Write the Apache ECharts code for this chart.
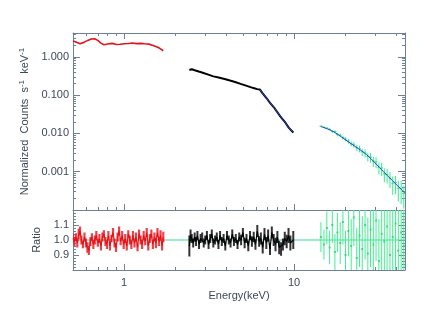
<!DOCTYPE html>
<html>
<head>
<meta charset="utf-8">
<script src="https://cdn.jsdelivr.net/npm/echarts@6/dist/echarts.min.js"></script>
</head>
<body style="margin:0;background:#fff">
<div id="chart" style="width:430px;height:332px"></div>
<script>
// soft band (red), keV / counts s-1 keV-1
var redE = [0.50,0.52,0.55,0.58,0.61,0.64,0.67,0.70,0.73,0.76,0.80,0.85,0.90,0.95,1.00,1.06,1.12,1.18,1.25,1.32,1.40,1.48,1.55,1.62,1.70];
var redV = [2.62,2.45,2.22,2.40,2.70,2.95,2.98,2.70,2.30,2.08,2.18,2.26,2.12,2.14,2.20,2.24,2.30,2.22,2.26,2.20,2.16,2.00,1.85,1.68,1.45];
// medium band (black)
var blackE = [2.42,2.50,2.60,2.75,2.90,3.10,3.35,3.60,3.90,4.20,4.50,4.85,5.27,5.60,5.90,6.08,6.20,6.30,6.40,6.50,6.60,6.90,7.20,7.70,8.30,8.80,9.30,9.90];
var blackV = [0.455,0.475,0.45,0.415,0.385,0.35,0.31,0.29,0.265,0.241,0.222,0.198,0.175,0.16,0.15,0.144,0.141,0.140,0.132,0.115,0.103,0.083,0.064,0.045,0.028,0.0205,0.0142,0.0106];
// model curve (blue)
var modelME = [6.30,6.40,6.50,6.60,6.90,7.20,7.70,8.30,8.80,9.30,9.90];
var modelMV = [0.140,0.132,0.115,0.103,0.083,0.064,0.045,0.028,0.0205,0.0142,0.0106];
var modelHE = [14.4,17.0,21.4,26.8,33.5,43.0,45.0];
var modelHV = [0.0152,0.01125,0.0056,0.00277,0.00102,0.000339,0.00028];
// hard band (green)
var greenE = [14.4,15.0,15.6,16.2,16.8,17.4,18.0,18.7,19.4,20.1,20.9,21.7,22.5,23.4,24.3,25.2,26.2,27.2,28.2,29.3,30.4,31.6,32.8,34.0,35.3,36.7,38.1,39.6,41.1,42.7,44.3];
var greenV = [0.0155,0.0145,0.0138,0.0128,0.0112,0.0112,0.0094,0.0090,0.0078,0.0071,0.0063,0.0054,0.0051,0.0042,0.0040,0.0033,0.0031,0.0025,0.0024,0.0019,0.0018,0.0013,0.00125,0.00088,0.00085,0.00068,0.00050,0.00052,0.00037,0.00036,0.00027];
var greenErr = [0.05,0.06,0.06,0.07,0.08,0.08,0.10,0.10,0.12,0.12,0.14,0.15,0.16,0.18,0.20,0.22,0.24,0.26,0.28,0.30,0.32,0.35,0.38,0.40,0.42,0.45,0.50,0.50,0.55,0.60,0.60];

// ratio panel
var redRE = [0.500,0.510,0.520,0.530,0.540,0.550,0.560,0.572,0.584,0.596,
  0.608,0.620,0.633,0.646,0.659,0.672,0.686,0.700,0.715,0.730,
  0.745,0.760,0.776,0.792,0.808,0.825,0.842,0.860,0.878,0.896,
  0.915,0.934,0.954,0.974,0.994,1.015,1.036,1.058,1.080,1.103,
  1.126,1.150,1.174,1.199,1.224,1.250,1.276,1.303,1.330,1.358,
  1.387,1.416,1.446,1.476,1.507,1.539,1.571,1.604,1.638,1.672,1.700];
var redR = [1.01,0.99,1.02,0.98,1.04,1.06,1.00,0.97,1.02,0.98,
  0.95,0.93,0.99,1.02,0.97,1.00,1.03,0.98,1.01,0.96,
  1.02,1.04,0.99,0.97,1.03,0.96,1.01,1.05,0.98,0.95,
  1.02,1.06,0.99,1.03,0.97,1.01,0.96,1.04,1.00,0.97,
  1.03,0.98,1.02,0.95,1.04,1.00,0.97,1.03,0.99,1.05,
  0.96,1.01,1.04,0.97,1.02,0.98,1.05,0.99,1.03,0.96,1.02];
var redRErr = [0.03,0.03,0.025,0.03,0.035,0.03,0.03,0.025,0.03,0.03,
  0.035,0.03,0.03,0.025,0.03,0.03,0.03,0.025,0.03,0.03,
  0.03,0.025,0.03,0.03,0.03,0.03,0.025,0.03,0.03,0.03,
  0.03,0.03,0.025,0.03,0.03,0.03,0.03,0.025,0.03,0.03,
  0.03,0.03,0.03,0.025,0.03,0.03,0.03,0.03,0.025,0.03,
  0.03,0.03,0.03,0.03,0.03,0.035,0.03,0.03,0.035,0.03,0.035];
var blackRE = [2.42,2.46,2.50,2.55,2.60,2.65,2.70,2.76,2.82,2.88,
  2.94,3.00,3.07,3.14,3.21,3.28,3.35,3.43,3.51,3.59,
  3.67,3.76,3.85,3.94,4.03,4.13,4.23,4.33,4.43,4.54,
  4.65,4.76,4.88,5.00,5.12,5.25,5.38,5.51,5.65,5.79,
  5.93,6.08,6.23,6.38,6.54,6.70,6.87,7.04,7.22,7.40,
  7.59,7.78,7.98,8.18,8.39,8.60,8.82,9.05,9.28,9.52,9.90];
var blackR = [0.96,1.03,1.01,0.98,1.02,0.99,1.03,0.97,1.01,1.02,
  0.98,1.00,1.03,0.97,1.01,1.04,0.98,1.00,1.02,0.97,
  1.03,0.99,1.01,0.96,1.03,1.00,0.98,1.04,0.99,1.01,
  0.97,1.02,1.00,1.05,0.98,1.01,0.96,1.03,0.99,1.02,
  0.97,1.06,0.99,1.01,0.95,1.04,0.98,1.03,0.94,1.05,
  1.00,0.97,1.02,0.95,0.94,0.97,1.01,0.99,1.03,0.98,1.00];
var blackRErr = [0.07,0.04,0.03,0.03,0.03,0.03,0.03,0.03,0.03,0.03,
  0.03,0.03,0.03,0.03,0.03,0.03,0.03,0.03,0.03,0.03,
  0.03,0.03,0.03,0.03,0.03,0.03,0.03,0.03,0.03,0.03,
  0.03,0.03,0.035,0.03,0.035,0.03,0.035,0.03,0.035,0.035,
  0.035,0.04,0.035,0.04,0.04,0.04,0.04,0.04,0.04,0.04,
  0.04,0.045,0.04,0.045,0.045,0.04,0.045,0.045,0.05,0.05,0.06];
var greenR = [1.02,0.97,1.08,0.95,1.10,0.92,1.05,0.98,1.12,0.90,1.06,0.96,1.15,0.88,1.03,0.94,1.10,0.91,1.07,0.97,1.13,0.86,1.04,0.99,1.09,0.90,1.02,1.11,0.93,1.05,0.96];
var greenRErr = [0.10,0.10,0.11,0.11,0.12,0.12,0.13,0.14,0.15,0.16,0.17,0.18,0.19,0.20,0.21,0.22,0.23,0.24,0.25,0.26,0.27,0.28,0.30,0.31,0.32,0.34,0.36,0.38,0.40,0.42,0.45];

var xTickMinor = [0.6,0.7,0.8,0.9,2,3,4,5,6,7,8,9,20,30,40];
var xTickMajor = [1,10];
var yTickMajor = [0.0001,0.001,0.01,0.1,1];
var rTickMajor = [0.9,1.0,1.1];

var L = Math.log10;
var frame = '#6f7f98', ink = '#3c4859', font = 'Liberation Sans';
var X0 = L(0.5), X1 = L(45), Y0 = -4, Y1 = 0.625;

var yTickMinor = [];
for (var d = -4; d <= 0; d++) for (var k = 2; k <= 9; k++) { var t = d + L(k); if (t < Y1) yTickMinor.push(t); }
var rTickMinor = [];
for (var i = 1; i < 20; i++) { var r = +(0.8 + i * 0.02).toFixed(2); if (rTickMajor.indexOf(r) < 0) rTickMinor.push(r); }

function ax(grid, pos, min, max, ticks, len, line, extra) {
  return Object.assign({
    type: 'value', gridIndex: grid, position: pos, min: min, max: max,
    axisLine: {show: line, onZero: false, lineStyle: {color: frame, width: 1}},
    axisTick: {show: true, inside: true, length: len, customValues: ticks, lineStyle: {color: frame, width: 1}},
    axisLabel: {show: false}, splitLine: {show: false}
  }, extra || {});
}

function errBars(xi, yi, data, color, w) {
  return {
    type: 'custom', xAxisIndex: xi, yAxisIndex: yi, clip: true, silent: true, data: data,
    renderItem: function (p, api) {
      var a = api.coord([api.value(0), api.value(1)]);
      var b = api.coord([api.value(0), api.value(2)]);
      return {type: 'line', shape: {x1: a[0], y1: a[1], x2: b[0], y2: b[1]}, style: {stroke: color, lineWidth: w}};
    }
  };
}

function pairs(es, vs, logy) {
  return es.map(function (e, i) { return [L(e), logy ? L(vs[i]) : vs[i]]; });
}

var labelX = {show: true, customValues: xTickMajor.map(L), fontSize: 11, color: ink, fontFamily: font, margin: 7,
  formatter: function (v) { return String(Math.round(Math.pow(10, v))); }};
var labelY = {show: true, customValues: [0.001, 0.01, 0.1, 1].map(L), fontSize: 11, color: ink, fontFamily: font, margin: 4,
  formatter: function (v) { return Math.pow(10, v).toFixed(3); }};
var labelR = {show: true, customValues: rTickMajor, fontSize: 11, color: ink, fontFamily: font, margin: 4,
  formatter: function (v) { return v.toFixed(1); }};

var chart = echarts.init(document.getElementById('chart'));
chart.setOption({
  animation: false,
  backgroundColor: '#fff',
  grid: [
    {left: 73, top: 33, width: 332, height: 177},
    {left: 73, top: 210, width: 332, height: 60},
    {left: 73, top: 33, width: 332, height: 177},
    {left: 73, top: 210, width: 332, height: 60}
  ],
  xAxis: [
    ax(0, 'bottom', X0, X1, xTickMinor.map(L), 3, true),
    ax(0, 'top', X0, X1, xTickMinor.map(L), 3, true),
    ax(2, 'bottom', X0, X1, xTickMajor.map(L), 6, false),
    ax(2, 'top', X0, X1, xTickMajor.map(L), 6, false),
    ax(1, 'bottom', X0, X1, xTickMinor.map(L), 3, true),
    ax(3, 'bottom', X0, X1, xTickMajor.map(L), 6, false, {
      axisLabel: labelX, name: 'Energy(keV)', nameLocation: 'middle', nameGap: 20,
      nameTextStyle: {fontSize: 11, color: ink, fontFamily: font}
    })
  ],
  yAxis: [
    ax(0, 'left', Y0, Y1, yTickMinor, 3, true),
    ax(0, 'right', Y0, Y1, yTickMinor, 3, true),
    ax(2, 'left', Y0, Y1, yTickMajor.map(L), 7, false, {
      axisLabel: labelY, name: 'Normalized  Counts  s{s|-1}  keV{s|-1}', nameLocation: 'middle', nameGap: 38,
      nameTextStyle: {fontSize: 11, color: ink, fontFamily: font,
        rich: {s: {fontSize: 8, color: ink, fontFamily: font, padding: [0, 0, 7, 0]}}}
    }),
    ax(2, 'right', Y0, Y1, yTickMajor.map(L), 7, false),
    ax(1, 'left', 0.8, 1.2, rTickMinor, 3, true),
    ax(1, 'right', 0.8, 1.2, rTickMinor, 3, true),
    ax(3, 'left', 0.8, 1.2, rTickMajor, 6, false, {
      axisLabel: labelR, name: 'Ratio', nameLocation: 'middle', nameGap: 28,
      nameTextStyle: {fontSize: 11, color: ink, fontFamily: font}
    }),
    ax(3, 'right', 0.8, 1.2, rTickMajor, 6, false)
  ],
  series: [
    // unity line in ratio panel
    {type: 'line', xAxisIndex: 4, yAxisIndex: 4, symbol: 'none', z: 1, silent: true,
      data: [[X0, 1], [X1, 1]], lineStyle: {color: '#2fe38a', width: 1}},
    // spectra
    {type: 'line', xAxisIndex: 0, yAxisIndex: 0, symbol: 'none', silent: true,
      data: pairs(redE, redV, true), lineStyle: {color: '#e3141c', width: 1.6}},
    {type: 'line', xAxisIndex: 0, yAxisIndex: 0, symbol: 'none', silent: true,
      data: pairs(blackE, blackV, true), lineStyle: {color: '#000', width: 2}},
    errBars(0, 0, greenE.map(function (e, i) { return [L(e), L(greenV[i] * (1 - greenErr[i])), L(greenV[i] * (1 + greenErr[i]))]; }), '#34ee8c', 1),
    {type: 'scatter', xAxisIndex: 0, yAxisIndex: 0, symbol: 'rect', symbolSize: [3, 1], silent: true,
      data: pairs(greenE, greenV, true), itemStyle: {color: '#22d870'}},
    {type: 'line', xAxisIndex: 0, yAxisIndex: 0, symbol: 'none', silent: true, z: 5,
      data: pairs(modelME, modelMV, true), lineStyle: {color: '#2b3fd0', width: 1}},
    {type: 'line', xAxisIndex: 0, yAxisIndex: 0, symbol: 'none', silent: true, z: 5, smooth: 0.3,
      data: pairs(modelHE, modelHV, true), lineStyle: {color: '#2b3fd0', width: 1}},
    // ratios
    errBars(4, 4, redRE.map(function (e, i) { return [L(e), redR[i] - redRErr[i], redR[i] + redRErr[i]]; }), 'rgba(238,30,40,0.85)', 2.2),
    {type: 'line', xAxisIndex: 4, yAxisIndex: 4, symbol: 'none', silent: true,
      data: pairs(redRE, redR, false), lineStyle: {color: '#e8111a', width: 1.2}},
    errBars(4, 4, blackRE.map(function (e, i) { return [L(e), blackR[i] - blackRErr[i], blackR[i] + blackRErr[i]]; }), 'rgba(15,15,20,0.85)', 2),
    {type: 'line', xAxisIndex: 4, yAxisIndex: 4, symbol: 'none', silent: true,
      data: pairs(blackRE, blackR, false), lineStyle: {color: '#000', width: 1.2}},
    errBars(4, 4, greenE.map(function (e, i) { return [L(e), greenR[i] - greenRErr[i], greenR[i] + greenRErr[i]]; }), '#3ef08f', 1),
    {type: 'scatter', xAxisIndex: 4, yAxisIndex: 4, symbol: 'rect', symbolSize: [2, 2], silent: true,
      data: pairs(greenE, greenR, false), itemStyle: {color: '#22d870'}}
  ]
});
</script>
</body>
</html>
